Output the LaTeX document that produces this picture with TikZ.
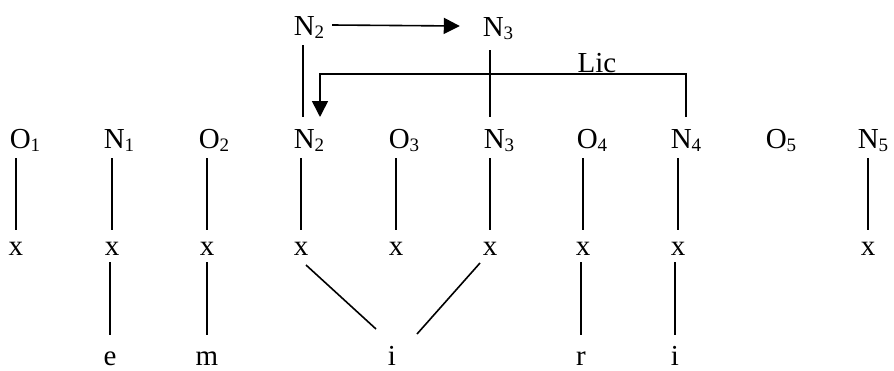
\documentclass[tikz,border=0pt]{standalone}
\usepackage{fontspec}
\setmainfont{Liberation Serif}
\usetikzlibrary{arrows.meta,calc}
\newcommand\subs[1]{\raisebox{-3pt}{\fontsize{19}{19}\selectfont #1}}
\begin{document}
\begin{tikzpicture}[x=1pt,y=-1pt,
  lbl/.style={inner sep=0pt, outer sep=0pt, anchor=base, font=\fontsize{29}{30}\selectfont},
  toprow/.style={lbl, text height=20pt, text depth=10pt},
  midrow/.style={lbl, text height=31pt, text depth=10pt},
  xrow/.style={lbl, text height=25pt, text depth=7pt},
  botrow/.style={lbl, text height=30pt, text depth=0pt},
  edge/.style={line width=1.6pt},
  arr/.style={edge, -{Triangle[length=16pt,width=16pt]}}]
\fill[white] (0,0) rectangle (894,370);
\useasboundingbox (0,0) rectangle (894,370);
% top row
\node[toprow] (t2) at (309,35) {N\subs{2}};
\node[toprow, text depth=14pt] (t3) at (498,36) {N\subs{3}};
% middle row
\node[midrow] (o1) at (25,148) {O\subs{1}};
\node[midrow] (n1) at (119,148) {N\subs{1}};
\node[midrow] (o2) at (214,148) {O\subs{2}};
\node[midrow] (n2) at (309,148) {N\subs{2}};
\node[midrow] (o3) at (404,148) {O\subs{3}};
\node[midrow] (n3) at (499,148) {N\subs{3}};
\node[midrow] (o4) at (592,148) {O\subs{4}};
\node[midrow] (n4) at (686,148) {N\subs{4}};
\node[midrow] (o5) at (781,148) {O\subs{5}};
\node[midrow] (n5) at (873,148) {N\subs{5}};
% x row
\node[xrow] (x1) at (16,255) {x};
\node[xrow] (x2) at (112,255) {x};
\node[xrow] (x3) at (207,255) {x};
\node[xrow] (x4) at (301,255) {x};
\node[xrow] (x5) at (396,255) {x};
\node[xrow] (x6) at (490,255) {x};
\node[xrow] (x7) at (583,255) {x};
\node[xrow] (x8) at (678,255) {x};
\node[xrow] (x10) at (868,255) {x};
% bottom row
\node[botrow] (e) at (110,365) {e};
\node[botrow] (m) at (207,365) {m};
\node[botrow] (i1) at (392,365) {i};
\node[botrow] (r) at (581,365) {r};
\node[botrow] (i2) at (675,365) {i};
% label
\node[lbl] (lic) at (597,72) {Lic};
% top connectors
\draw[arr] ([xshift=8pt,yshift=10pt]t2.base east) -- ([xshift=-23pt,yshift=10pt]t3.base west);
\draw[edge] ([xshift=-6pt]t2.south) -- ([xshift=-6pt]n2.north);
\draw[edge] (t3.south -| x6) -- (n3.north -| x6);
\draw[arr] (n4.north) -- ++(0,-43) -| ([xshift=11pt]n2.north);
% middle to x
\draw[edge] (o1.south -| x1) -- (x1.north);
\draw[edge] (n1.south -| x2) -- (x2.north);
\draw[edge] (o2.south -| x3) -- (x3.north);
\draw[edge] (n2.south -| x4) -- (x4.north);
\draw[edge] (o3.south -| x5) -- (x5.north);
\draw[edge] (n3.south -| x6) -- (x6.north);
\draw[edge] (o4.south -| x7) -- (x7.north);
\draw[edge] (n4.south -| x8) -- (x8.north);
\draw[edge] (n5.south -| x10) -- (x10.north);
% x to bottom
\draw[edge] (e.north |- x2.south) -- (e.north);
\draw[edge] (m.north |- x3.south) -- (m.north);
\draw[edge] ($(x4.south)+(5,3)$) -- ($(i1.north)+(-16,-6)$);
\draw[edge] ($(x6.south)+(-10,1)$) -- ($(i1.north)+(25,-1)$);
\draw[edge] (r.north |- x7.south) -- (r.north);
\draw[edge] (i2.north |- x8.south) -- (i2.north);
\end{tikzpicture}
\end{document}
